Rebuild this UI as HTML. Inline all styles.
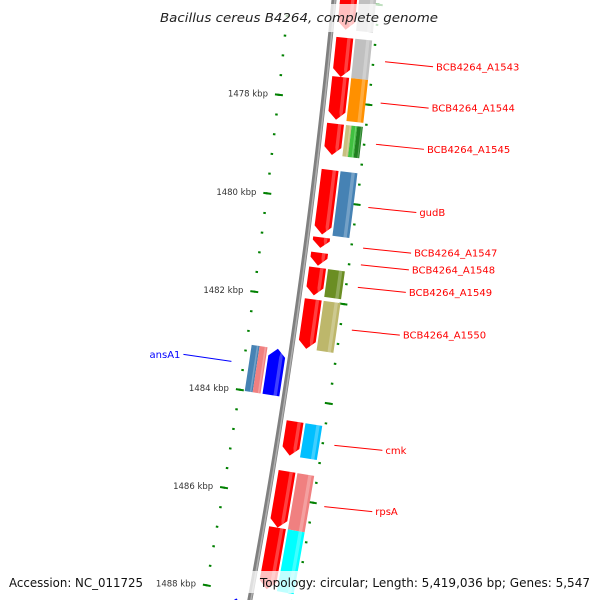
<!DOCTYPE html>
<html><head><meta charset="utf-8"><style>
html,body{margin:0;padding:0;background:#fff;overflow:hidden;width:600px;height:600px;}
svg{display:block;font-family:"DejaVu Sans","Liberation Sans",sans-serif;}
</style></head><body>
<svg id="map" width="600" height="600" viewBox="0 0 600 600" xmlns="http://www.w3.org/2000/svg" overflow="hidden">
<g id="ticks"></g>
<g id="backbone"></g>
<g id="genes"></g>
<g id="labels"></g>
<rect x="155" y="4" width="290" height="28" fill="#fff" fill-opacity="0.75"/>
<text x="160" y="22" font-size="12.5" font-style="italic" fill="#222" textLength="278" lengthAdjust="spacingAndGlyphs">Bacillus cereus B4264, complete genome</text>
<rect x="4" y="571" width="145" height="22" fill="#fff" fill-opacity="0.75"/>
<text x="9" y="587" font-size="12" fill="#111" textLength="134" lengthAdjust="spacingAndGlyphs">Accession: NC_011725</text>
<rect x="225" y="571" width="372" height="22" fill="#fff" fill-opacity="0.75"/>
<text x="260" y="587" font-size="12" fill="#111" textLength="330" lengthAdjust="spacingAndGlyphs">Topology: circular; Length: 5,419,036 bp; Genes: 5,547</text>
</svg>
<script>
// ---- data ----
const geneNames = ["top-gene","BCB4264_A1543","BCB4264_A1544","BCB4264_A1545","gudB","BCB4264_A1547","BCB4264_A1548","BCB4264_A1549","BCB4264_A1550","ansA1","cmk","rpsA","next-gene","bottom-gene"];
const geneStart = [1475.76,1476.72,1477.51,1478.45,1479.38,1480.74,1481.05,1481.35,1481.99,1483.07,1484.46,1485.47,1486.61,1488.15];
const geneEnd   = [1476.56,1477.51,1478.37,1479.08,1480.68,1480.95,1481.31,1481.91,1482.99,1484.01,1485.15,1486.61,1487.86,1489.2];
const geneStrand= [1,1,1,1,1,1,1,1,1,-1,1,1,1,-1];
const geneCog   = [["#c0c0c0"],["#c0c0c0"],["#ff9000"],["#c8c080","#40c040","#208020"],["#4682b4"],[],[],["#6b8e23"],["#bdb76b"],["#4682b4","#f08080"],["#00bfff"],["#f08080"],["#00ffff"],[]];
const geneArrowColor = ["#ff0000","#ff0000","#ff0000","#ff0000","#ff0000","#ff0000","#ff0000","#ff0000","#ff0000","#0000ff","#ff0000","#ff0000","#ff0000","#0000ff"];
const labelShown = [false,true,true,true,true,true,true,true,true,true,true,true,false,false];
const majorTicks = [1476,1478,1480,1482,1484,1486,1488];
const tickLabels = ["1476 kbp","1478 kbp","1480 kbp","1482 kbp","1484 kbp","1486 kbp","1488 kbp"];
const minorStart = 1475.2, minorEnd = 1489.2, minorStep = 0.4;

// ---- layout ----
const NS="http://www.w3.org/2000/svg";
const R=7000, CX=-6633.8, CY=-670.9;
const TH0=6.321, DEG_PER_KBP=0.4085;
function ang(k){return (TH0+(k-1478)*DEG_PER_KBP)*Math.PI/180;}
function pt(k,r){const a=ang(k);return [CX+r*Math.cos(a), CY+r*Math.sin(a)];}
function mk(tag,attrs,parent){const e=document.createElementNS(NS,tag);for(const a in attrs)e.setAttribute(a,attrs[a]);parent.appendChild(e);return e;}
function band(k1,k2,r1,r2){const p=[];const n=8;for(let i=0;i<=n;i++)p.push(pt(k1+(k2-k1)*i/n,r2));for(let i=n;i>=0;i--)p.push(pt(k1+(k2-k1)*i/n,r1));return p.map(q=>q[0].toFixed(2)+","+q[1].toFixed(2)).join(" ");}
function arrow(k1,k2,r1,r2,dir){
  let h=Math.min(0.16,(k2-k1)*0.7);const p=[];const n=8;
  if(dir>0){const kb=k2-h;
    for(let i=0;i<=n;i++)p.push(pt(k1+(kb-k1)*i/n,r2));
    p.push(pt(k2,(r1+r2)/2));
    for(let i=n;i>=0;i--)p.push(pt(k1+(kb-k1)*i/n,r1));
  }else{const kb=k1+h;
    p.push(pt(k1,(r1+r2)/2));
    for(let i=0;i<=n;i++)p.push(pt(kb+(k2-kb)*i/n,r2));
    for(let i=n;i>=0;i--)p.push(pt(kb+(k2-kb)*i/n,r1));
  }
  return p.map(q=>q[0].toFixed(2)+","+q[1].toFixed(2)).join(" ");
}

// ticks
const gT=document.getElementById("ticks");
for(let k=minorStart;k<=minorEnd+1e-6;k+=minorStep){
  for(const s of [-1,1]){
    const a=pt(k,R+s*44),b=pt(k,R+s*46.5);
    const l=mk("line",{x1:a[0],y1:a[1],x2:b[0],y2:b[1],stroke:"#008000","stroke-width":2},gT);
    
    
  }
}
majorTicks.forEach((k,i)=>{
  for(const s of [-1,1]){
    const a=pt(k,R+s*41),b=pt(k,R+s*49);
    const l=mk("line",{x1:a[0],y1:a[1],x2:b[0],y2:b[1],stroke:"#008000","stroke-width":2},gT);
    
    
  }
  const q=pt(k,R-56);
  const t=mk("text",{x:q[0],y:q[1]+3,"font-size":8.5,"text-anchor":"end",fill:"#333"},gT);
  t.textContent=tickLabels[i];
  
  
});

// backbone
const gB=document.getElementById("backbone");
function arcPath(r){let d="";for(let k=1474.5;k<=1489.5;k+=0.25){const p=pt(k,r);d+=(d?"L":"M")+p[0].toFixed(2)+","+p[1].toFixed(2);}return d;}
const bb1=mk("path",{d:arcPath(R),stroke:"#808080","stroke-width":5,fill:"none"},gB);


const bb2=mk("path",{d:arcPath(R+1),stroke:"#b0b0b0","stroke-width":1.5,fill:"none"},gB);



// genes
const gG=document.getElementById("genes");
const gL=document.getElementById("labels");
geneNames.forEach((name,i)=>{
  const s=geneStrand[i], k1=geneStart[i], k2=geneEnd[i];
  const g=mk("g",{},gG);
  
  
  const ar1=s>0?R+6:R-22, ar2=s>0?R+23:R-5;
  const a=mk("polygon",{points:arrow(k1,k2,ar1,ar2,s),fill:geneArrowColor[i]},g);
  
  
  const hl=mk("polygon",{points:arrow(k1,k2,ar1+(ar2-ar1)*0.65,ar1+(ar2-ar1)*0.85,s),fill:"#fff","fill-opacity":0.25},g);
  
  
  const cogs=geneCog[i];
  if(cogs.length){
    const c1=s>0?R+25:R-40, c2=s>0?R+42:R-24;
    const w=(c2-c1)/cogs.length;
    cogs.forEach((col,j)=>{
      const rr1=c1+j*w, rr2=rr1+w;
      const b=mk("polygon",{points:band(k1,k2,rr1,rr2),fill:col},g);
      
      
      const h=mk("polygon",{points:band(k1,k2,rr1+w*0.65,rr1+w*0.85),fill:"#fff","fill-opacity":0.25},g);
      
      
    });
  }
  if(labelShown[i]){
    const km=(k1+k2)/2;
    const col=s>0?"#ff0000":"#0000ff";
    const st=pt(km,R+s*57);
    if(s<0) st[1]-=4;
    const tx=st[0]+s*48, ty=st[1]+(s>0?5:-7);
    const ln=mk("line",{x1:st[0],y1:st[1],x2:tx,y2:ty,stroke:col,"stroke-width":1},gL);
    
    
    const t=mk("text",{x:tx+s*3,y:ty+3.5,"font-size":10,fill:col,"text-anchor":s>0?"start":"end"},gL);
    t.textContent=name;
    
    
  }
});
</script>
</body></html>
